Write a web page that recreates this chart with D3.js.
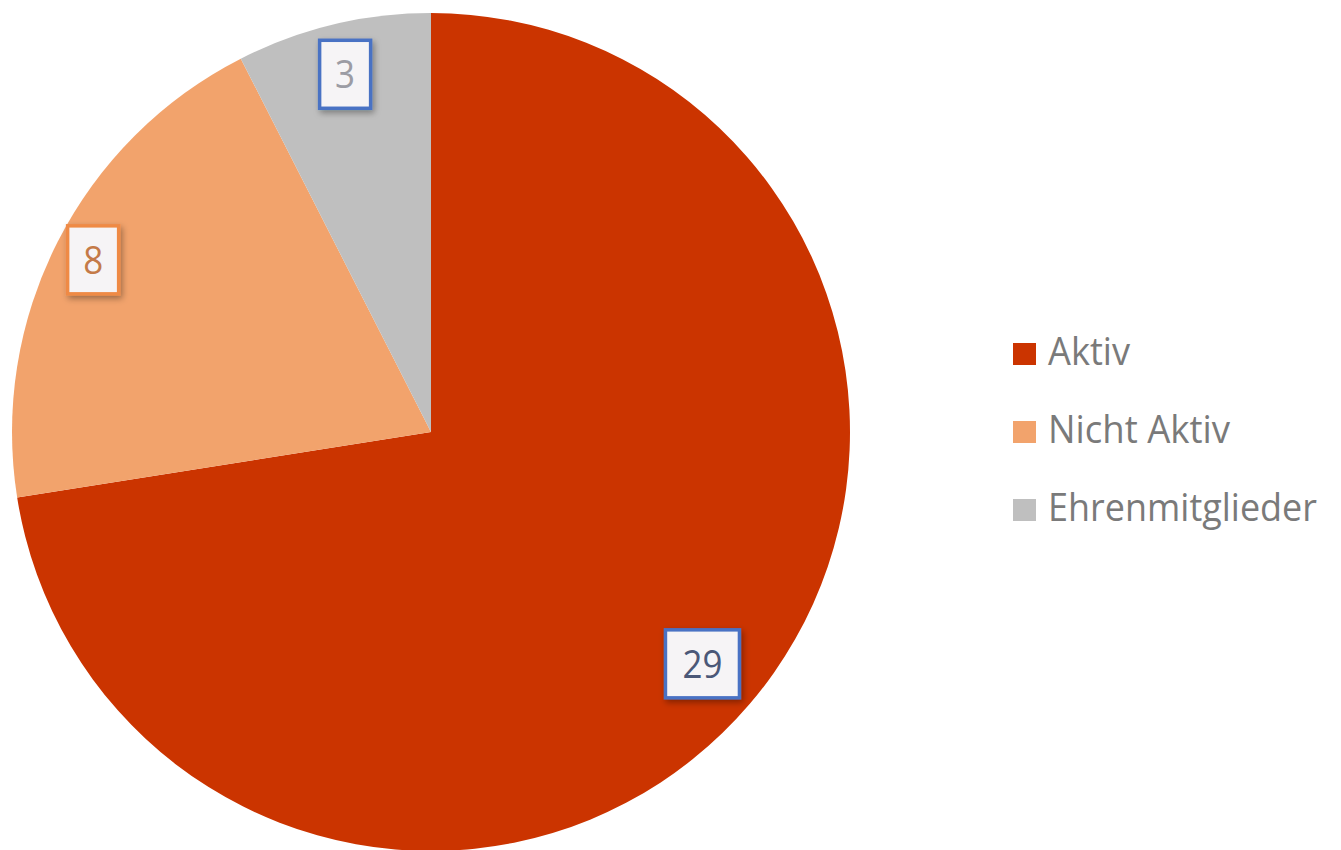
<!DOCTYPE html>
<html>
<head>
<meta charset="utf-8">
<script src="https://cdn.jsdelivr.net/npm/d3@7"></script>
<style>
  html, body { margin: 0; padding: 0; background: #ffffff; }
  svg { display: block; }
</style>
</head>
<body>
<svg id="chart" width="1341" height="850"></svg>
<script>
// ---- data ----
const categories = ["Aktiv", "Nicht Aktiv", "Ehrenmitglieder"];
const values = [29, 8, 3];

// ---- styles ----
const sliceColors = ["#CB3400", "#F2A36C", "#BFBFBF"];
const labelBorder = ["#4A72C4", "#EF8A45", "#4A72C4"];
const labelText = ["#4B5878", "#C47A48", "#9C9CA4"];
const labelRadiusFactor = [0.852, 0.905, 0.878];

const svg = d3.select("#chart");
const width = 1341, height = 850;
const cx = 431, cy = 432, r = 419;

const defs = svg.append("defs");
const f = defs.append("filter").attr("id", "shadow")
  .attr("x", "-40%").attr("y", "-40%").attr("width", "180%").attr("height", "180%");
f.append("feDropShadow").attr("dx", 2).attr("dy", 3).attr("stdDeviation", 3)
  .attr("flood-color", "#000").attr("flood-opacity", 0.35);

const data = categories.map((c, i) => ({ name: c, value: values[i], i }));

const pie = d3.pie().value(d => d.value).sort(null);
const arcs = pie(data);
const arc = d3.arc().innerRadius(0).outerRadius(r);

const g = svg.append("g").attr("transform", `translate(${cx},${cy})`);
g.selectAll("path.slice").data(arcs).join("path")
  .attr("class", "slice")
  .attr("d", arc)
  .attr("fill", d => sliceColors[d.index]);

// data labels
const font = "'Open Sans', 'DejaVu Sans', sans-serif";
arcs.forEach(d => {
  const lr = r * labelRadiusFactor[d.index];
  const la = d3.arc().innerRadius(lr).outerRadius(lr);
  const [x, y] = la.centroid(d);
  const txt = String(d.data.value);
  const w = txt.length > 1 ? 74 : 51;
  const h = 68;
  const lg = g.append("g").attr("transform", `translate(${x},${y})`);
  lg.append("rect")
    .attr("x", -w / 2).attr("y", -h / 2).attr("width", w).attr("height", h)
    .attr("fill", "#F6F4F6")
    .attr("stroke", labelBorder[d.index]).attr("stroke-width", 3.5)
    .attr("filter", "url(#shadow)");
  lg.append("text")
    .attr("x", 0).attr("y", 14)
    .attr("text-anchor", "middle")
    .attr("font-family", font)
    .attr("font-size", 38)
    .attr("fill", labelText[d.index])
    .attr("textLength", txt.length > 1 ? 40 : 20)
    .attr("lengthAdjust", "spacingAndGlyphs")
    .text(txt);
});

// legend
const legendX = 1013, legendY0 = 365, legendStep = 78;
const legendWidths = [82, 182, 269];
const leg = svg.append("g");
categories.forEach((c, i) => {
  const y = legendY0 + i * legendStep;
  leg.append("rect")
    .attr("x", legendX).attr("y", y - 22).attr("width", 23).attr("height", 22)
    .attr("fill", sliceColors[i]);
  leg.append("text")
    .attr("x", legendX + 35).attr("y", y)
    .attr("font-family", font)
    .attr("font-size", 39)
    .attr("fill", "#7A7A7A")
    .attr("textLength", legendWidths[i])
    .attr("lengthAdjust", "spacingAndGlyphs")
    .text(c);
});
</script>
</body>
</html>
